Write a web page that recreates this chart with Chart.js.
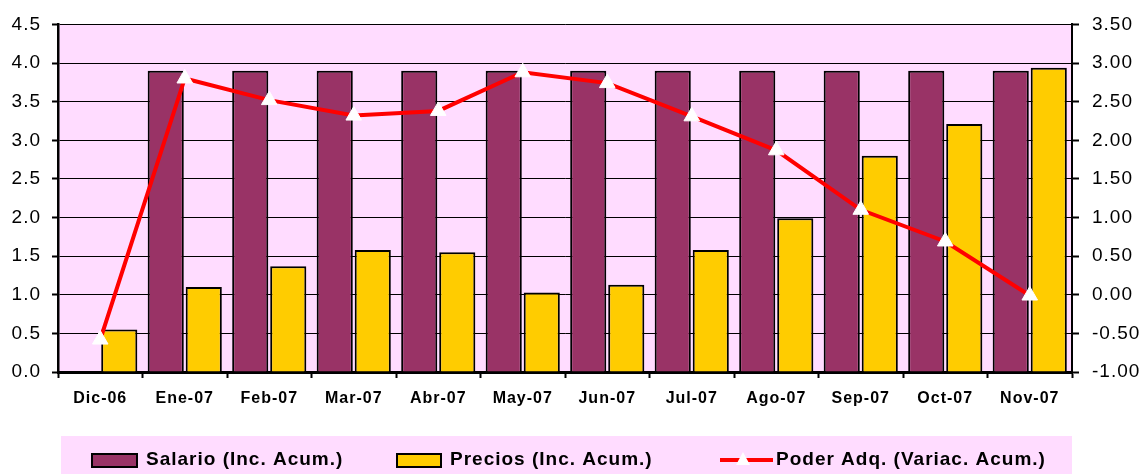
<!DOCTYPE html>
<html>
<head>
<meta charset="utf-8">
<script src="https://cdn.jsdelivr.net/npm/chart.js@4.4.0/dist/chart.umd.min.js"></script>
<style>
    html, body { margin: 0; padding: 0; background: #ffffff; }
    #wrap { width: 1141px; height: 474px; position: relative; }
</style>
</head>
<body>
<div id="wrap"><canvas id="poderChart" width="1141" height="474"></canvas></div>
<script>
const months = ['Dic-06', 'Ene-07', 'Feb-07', 'Mar-07', 'Abr-07', 'May-07', 'Jun-07', 'Jul-07', 'Ago-07', 'Sep-07', 'Oct-07', 'Nov-07'];
const salario = [null, 3.9, 3.9, 3.9, 3.9, 3.9, 3.9, 3.9, 3.9, 3.9, 3.9, 3.9];
const precios = [0.55, 1.1, 1.37, 1.58, 1.55, 1.03, 1.13, 1.58, 1.99, 2.8, 3.21, 3.94];
const poderAdq = [-0.58, 2.8, 2.52, 2.32, 2.38, 2.88, 2.74, 2.31, 1.87, 1.1, 0.69, -0.01];

const leftTicks = { min: 0, max: 4.5, step: 0.5 };
const rightTicks = { min: -1, max: 3.5, step: 0.5 };

const fontFamily = '"Liberation Sans", Arial, sans-serif';
const pink = '#FFDCFF';

// plot background and letter spacing (the original text is a bit spread out)
const backdrop = {
    id: 'backdrop',
    beforeDraw(chart) {
        const { ctx, chartArea } = chart;
        ctx.letterSpacing = '1px';
        ctx.save();
        ctx.fillStyle = pink;
        ctx.fillRect(chartArea.left, chartArea.top, chartArea.right - chartArea.left, chartArea.bottom - chartArea.top);
        ctx.restore();
    },
};

// legend box at the bottom, drawn like the spreadsheet one
const bottomLegend = {
    id: 'bottomLegend',
    afterDraw(chart) {
        const { ctx } = chart;
        const ds = chart.data.datasets;
        ctx.save();
        ctx.fillStyle = pink;
        ctx.fillRect(61, 436, 1011, 38);

        ctx.font = 'bold 19px ' + fontFamily;
        ctx.textBaseline = 'middle';
        const y = 460;

        // Salario
        ctx.fillStyle = ds[0].backgroundColor;
        ctx.fillRect(92, 454, 45, 13);
        ctx.strokeStyle = '#000';
        ctx.lineWidth = 2;
        ctx.strokeRect(92, 454, 45, 13);
        ctx.fillStyle = '#000';
        ctx.fillText(ds[0].label, 146, y);

        // Precios
        ctx.fillStyle = ds[1].backgroundColor;
        ctx.fillRect(397, 454, 44, 13);
        ctx.strokeRect(397, 454, 44, 13);
        ctx.fillStyle = '#000';
        ctx.fillText(ds[1].label, 450, y);

        // Poder Adq.
        ctx.strokeStyle = ds[2].borderColor;
        ctx.lineWidth = 4;
        ctx.beginPath();
        ctx.moveTo(720, y);
        ctx.lineTo(773, y);
        ctx.stroke();
        ctx.fillStyle = '#fff';
        ctx.beginPath();
        ctx.moveTo(743, y - 8);
        ctx.lineTo(750, y + 5);
        ctx.lineTo(736, y + 5);
        ctx.closePath();
        ctx.fill();
        ctx.fillStyle = '#000';
        ctx.fillText(ds[2].label, 776, y);
        ctx.restore();
    },
};

new Chart(document.getElementById('poderChart'), {
    type: 'bar',
    data: {
        labels: months,
        datasets: [
            {
                label: 'Salario (Inc. Acum.)',
                data: salario,
                backgroundColor: '#993366',
                borderColor: '#000',
                borderWidth: 2,
                categoryPercentage: 0.9,
                barPercentage: 0.95,
                yAxisID: 'y',
                order: 1,
            },
            {
                label: 'Precios (Inc. Acum.)',
                data: precios,
                backgroundColor: '#FFCC00',
                borderColor: '#000',
                borderWidth: 2,
                categoryPercentage: 0.9,
                barPercentage: 0.95,
                yAxisID: 'y',
                order: 1,
            },
            {
                type: 'line',
                label: 'Poder Adq. (Variac. Acum.)',
                data: poderAdq,
                borderColor: '#FF0000',
                borderWidth: 4,
                tension: 0,
                pointStyle: 'triangle',
                pointRadius: 9,
                pointBackgroundColor: '#FFFFFF',
                pointBorderColor: '#FFFFFF',
                pointBorderWidth: 1,
                yAxisID: 'y2',
                order: 0,
            },
        ],
    },
    options: {
        responsive: false,
        animation: false,
        layout: { padding: { top: 21, left: 0, right: 0, bottom: 0 } },
        plugins: {
            legend: { display: false },
            tooltip: { enabled: false },
        },
        scales: {
            x: {
                grid: { offset: true, drawOnChartArea: false, color: '#000', tickLength: 6, tickWidth: 2 },
                border: { color: '#000', width: 3 },
                ticks: {
                    color: '#000',
                    padding: 11,
                    maxRotation: 0,
                    font: { family: fontFamily, size: 16, weight: 'bold' },
                },
                afterFit(scale) { scale.height = 102; },
            },
            y: {
                position: 'left',
                min: leftTicks.min,
                max: leftTicks.max,
                grid: { color: '#000', lineWidth: 1, tickLength: 6, tickWidth: 2, tickColor: '#000' },
                border: { color: '#000', width: 2.5 },
                ticks: {
                    stepSize: leftTicks.step,
                    color: '#000',
                    padding: 11,
                    font: { family: fontFamily, size: 19 },
                    callback: (v) => Number(v).toFixed(1),
                },
                afterFit(scale) { scale.width = 58; },
            },
            y2: {
                position: 'right',
                min: rightTicks.min,
                max: rightTicks.max,
                grid: { drawOnChartArea: false, color: '#000', tickLength: 7, tickWidth: 2 },
                border: { color: '#000', width: 2 },
                ticks: {
                    stepSize: rightTicks.step,
                    color: '#000',
                    padding: 13,
                    font: { family: fontFamily, size: 19 },
                    callback: (v) => Number(v).toFixed(2),
                },
                afterFit(scale) { scale.width = 69; },
            },
        },
    },
    plugins: [backdrop, bottomLegend],
});
</script>
</body>
</html>
